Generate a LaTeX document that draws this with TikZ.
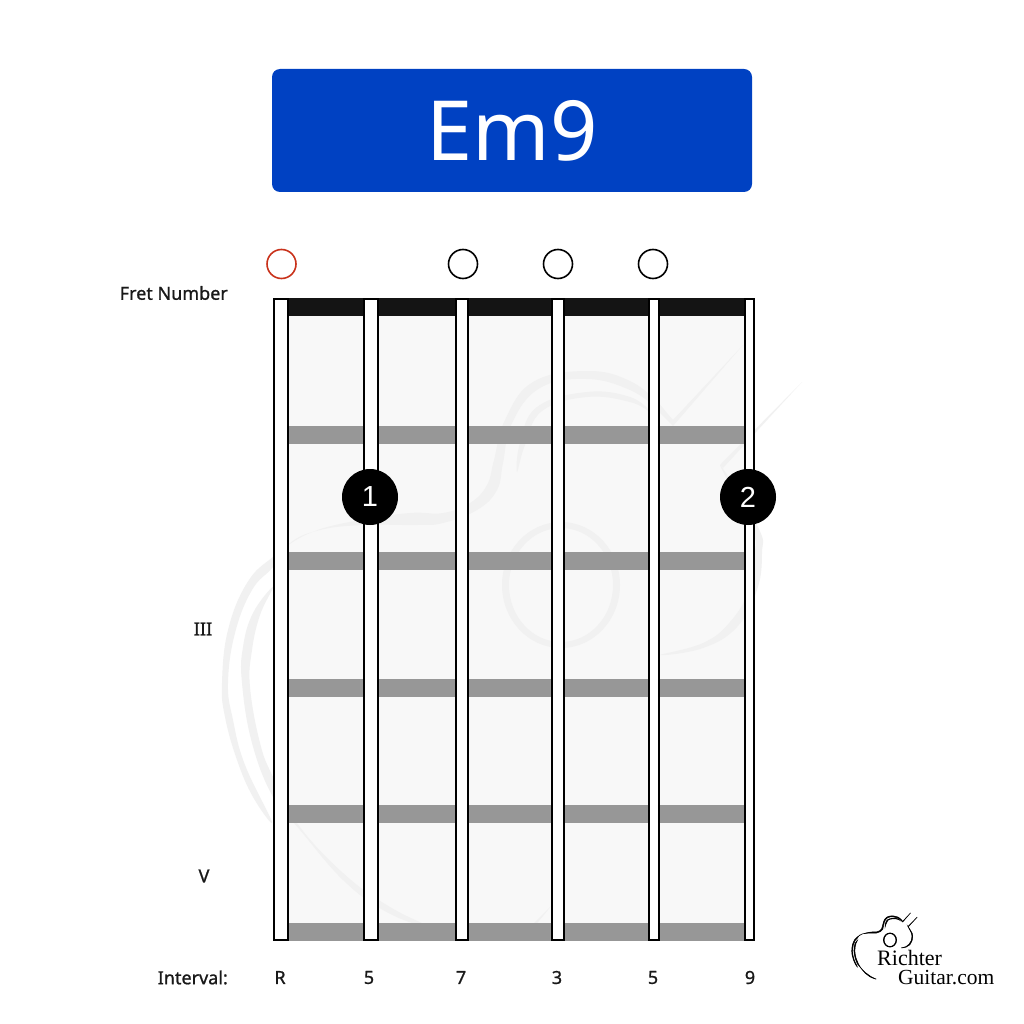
\documentclass[tikz,border=0pt]{standalone}
\usepackage{fontspec}
\setmainfont{Noto Sans}
\newfontfamily\labelfont[FakeBold=1]{Noto Sans}
\newfontfamily\numfont{Liberation Sans}
\newfontfamily\logofont{Liberation Serif}
\usepackage{tikz}
\definecolor{titleblue}{HTML}{0041C2}
\definecolor{openred}{HTML}{C9321B}
\definecolor{fretgrey}{HTML}{979797}
\definecolor{boardgrey}{HTML}{F8F8F8}
\definecolor{nutblack}{HTML}{141414}
\definecolor{markgrey}{HTML}{F1F1F1}
\tikzstyle{label}=[text=black!90, inner sep=0pt, font=\fontsize{18}{18}\selectfont\labelfont]
\tikzstyle{open}=[circle, draw=black, line width=1.6pt, minimum size=29pt, inner sep=0pt]
\tikzstyle{finger}=[circle, fill=black, text=white, minimum size=56pt, inner sep=0pt,
		font=\fontsize{29}{29}\selectfont\numfont]
\tikzstyle{outline}=[smooth cycle, tension=0.7]
% the guitar outline, used for the watermark and for the logo
\newcommand{\guitarshape}{
    \fill plot[outline] coordinates {
        (272,822) (253,797) (237,760) (225,717) (222,683) (228,630) (247,583)
        (273,557) (310,533) (360,520) (410,513) (443,513) (470,503) (487,485)
        (494,460) (505,420) (533,382) (587,371) (630,381) (660,405) (660,410)
        (630,390) (587,379) (540,388) (512,423) (503,463) (497,490) (477,510)
        (443,523) (417,525) (363,525) (320,530) (290,543) (273,567) (252,590)
        (235,633) (228,683) (233,720) (245,765)};
    \fill plot[outline] coordinates {
        (273,587) (253,613) (243,647) (242,683) (252,743) (273,797) (300,830)
        (343,880) (383,910) (423,927) (437,930) (390,907) (343,873) (297,823)
        (273,777) (260,743) (250,687) (252,650) (260,615)};
    \fill plot[outline] coordinates {
        (517,472) (520,443) (537,407) (587,392) (630,397) (650,412) (630,402)
        (587,397) (542,411) (525,445)};
    \fill (660,405) -- (673,420) -- (743,345) -- (673,426) -- (657,410) -- cycle;
    \fill (802,382) -- (720,465) -- (723,468) -- cycle;
    \fill plot[outline] coordinates {
        (720,465) (758,527) (762,553) (757,590) (737,627) (703,648) (660,655)
        (703,643) (730,622) (749,590) (755,553) (751,527)};
    \fill[even odd rule] (561,585) ellipse [x radius=59, y radius=63]
        (561,585) ellipse [x radius=52, y radius=57];
}

\begin{document}
\begin{tikzpicture}[x=1pt, y=-1pt]

    \useasboundingbox (0,0) rectangle (1024,1024);
    \fill[white] (0,0) rectangle (1024,1024);

    \node (Title) [rectangle, fill=titleblue, text=white, rounded corners=8pt,
    		minimum width=480pt, minimum height=123pt, inner sep=0pt,
    		font=\fontsize{83}{83}\selectfont] at (512,130.5) {Em9};

    \fill[boardgrey] (281,316) rectangle (749,923);
    \begin{scope}[markgrey]
        \guitarshape
        \fill (530,927) -- (552,905) -- (534,927) -- cycle;
    \end{scope}

    \fill[nutblack] (281,298) rectangle (749,316);
    \foreach \y in {426,552,679,805,923}
        \fill[fretgrey] (281,\y) rectangle (749,\y+17.5);

    \foreach \x/\w in {281/7,371/7,462/6.2,558/5.6,654/5,749.5/4.5}
        \draw[line width=2pt, fill=white] (\x-\w,299) rectangle (\x+\w,940);

    \node (Open1) [open, draw=openred] at (281.5,264) {};
    \node (Open3) [open] at (463,264) {};
    \node (Open4) [open] at (558,264) {};
    \node (Open5) [open] at (653,264) {};

    \node (Finger1) [finger] at (370,497) {1};
    \node (Finger2) [finger] at (748,497) {2};

    \node (FretLabel) [label, anchor=east] at (228,293) {Fret Number};
    \node (FretIII) [label] at (203,629) {III};
    \node (FretV) [label] at (204,876) {V};
    \node (IntervalLabel) [label, anchor=east] at (228,977.5) {Interval:};
    \node (IntR) [label] at (280,977.5) {R};
    \node (IntA) [label] at (369,977.5) {5};
    \node (IntB) [label] at (461,977.5) {7};
    \node (IntC) [label] at (557,977.5) {3};
    \node (IntD) [label] at (653,977.5) {5};
    \node (IntE) [label] at (750,977.5) {9};

    \begin{scope}[black, shift={(890,940)}, scale=0.113, shift={(-561,-585)},
    		every path/.style={draw=black, line width=0.5pt}]
        \guitarshape
    \end{scope}
    \node (LogoTop) [inner sep=0pt, anchor=base west, font=\fontsize{22}{22}\selectfont\logofont]
    	at (877,965) {Richter};
    \node (LogoBottom) [inner sep=0pt, anchor=base west, font=\fontsize{21.5}{21.5}\selectfont\logofont]
    	at (898,984) {Guitar.com};

\end{tikzpicture}
\end{document}
